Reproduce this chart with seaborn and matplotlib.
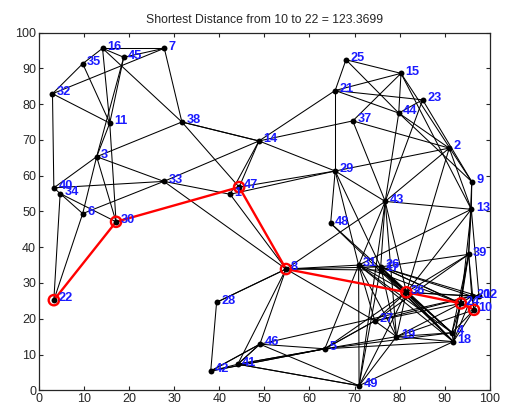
import numpy as np
import pandas as pd
import matplotlib
matplotlib.use("Agg")
import matplotlib.pyplot as plt
import seaborn as sns

# node coordinates (node id -> x, y)
node_ids = list(range(1, 50))
node_x = [42.4, 91.0, 12.8, 91.6, 63.4, 9.7, 27.8, 54.8, 96.0, 96.5,
          15.7, 97.6, 95.9, 48.8, 80.3, 14.1, 75.8, 91.9, 79.3, 96.0,
          65.7, 3.3, 85.1, 93.6, 68.1, 75.8, 74.5, 39.4, 65.7, 17.1,
          70.9, 3.0, 27.7, 4.7, 9.7, 81.5, 69.6, 31.7, 95.3, 3.3,
          44.1, 38.1, 76.8, 79.8, 18.8, 49.0, 44.4, 64.7, 71.0]
node_y = [54.8, 67.7, 65.3, 16.1, 11.6, 49.4, 95.6, 33.9, 58.3, 22.5,
          74.7, 26.3, 50.6, 69.7, 88.6, 95.6, 33.6, 13.6, 15.0, 26.3,
          83.8, 25.2, 81.2, 24.3, 92.4, 34.5, 19.4, 24.6, 61.3, 47.1,
          35.0, 82.9, 58.4, 55.0, 91.3, 27.4, 75.3, 75.0, 38.0, 56.6,
          7.3, 5.4, 52.8, 77.5, 93.1, 12.9, 56.8, 46.7, 1.3]

# graph edges (from, to)
edges_from = [16, 16, 16, 16, 16, 7, 7, 7, 45, 45, 35, 35, 32, 32, 11, 11, 3, 3, 3, 3,
              3, 40, 40, 34, 34, 34, 6, 6, 33, 33, 33, 38, 38, 47, 1, 47, 1, 1, 14, 14,
              14, 14, 21, 21, 21, 21, 21, 25, 25, 15, 15, 15, 23, 23, 23, 44, 44, 37, 37, 2,
              2, 2, 29, 29, 29, 29, 43, 43, 43, 43, 43, 43, 43, 48, 48, 13, 13, 13, 13, 13,
              13, 9, 39, 39, 39, 39, 39, 39, 39, 39, 8, 8, 8, 8, 8, 8, 8, 31, 31, 31,
              31, 31, 31, 31, 31, 26, 26, 26, 26, 26, 26, 26, 26, 26, 17, 17, 17, 36, 36, 36,
              36, 36, 36, 36, 36, 27, 27, 27, 27, 19, 19, 19, 19, 19, 18, 18, 18, 18, 18, 4,
              4, 24, 24, 20, 20, 12, 5, 5, 5, 5, 5, 5, 5, 49, 49, 46, 46, 46, 28, 28,
              42, 42, 42, 41, 41, 41, 5, 2, 15, 44]
edges_to = [7, 45, 35, 11, 38, 45, 32, 38, 3, 11, 32, 11, 11, 40, 3, 30, 38, 33, 40, 6,
            30, 33, 34, 6, 22, 30, 22, 33, 1, 14, 8, 47, 14, 14, 14, 29, 29, 8, 29, 21,
            37, 38, 25, 15, 23, 44, 29, 15, 44, 44, 37, 9, 44, 9, 43, 43, 9, 2, 43, 43,
            29, 13, 43, 31, 26, 48, 13, 8, 26, 19, 49, 36, 31, 18, 4, 9, 39, 31, 36, 12,
            24, 39, 26, 36, 24, 10, 20, 18, 4, 27, 31, 26, 27, 28, 41, 46, 17, 26, 27, 19,
            18, 4, 36, 24, 49, 36, 18, 4, 24, 20, 12, 10, 19, 49, 36, 18, 4, 19, 27, 18,
            4, 20, 12, 49, 5, 19, 20, 24, 5, 18, 4, 24, 10, 49, 4, 10, 24, 20, 49, 10,
            24, 10, 20, 12, 10, 10, 46, 41, 42, 4, 19, 27, 18, 41, 46, 42, 20, 41, 42, 8,
            41, 46, 5, 46, 49, 5, 31, 36, 13, 2]

# shortest path 10 -> 22
path = [10, 24, 36, 8, 47, 30, 22]
title = "Shortest Distance from 10 to 22 = 123.3699"

# ──────────────────────────────────────────────
pos = dict(zip(node_ids, zip(node_x, node_y)))

seg_rows = []
for k, (a, b) in enumerate(zip(edges_from, edges_to)):
    seg_rows.append({"edge": k, "x": pos[a][0], "y": pos[a][1]})
    seg_rows.append({"edge": k, "x": pos[b][0], "y": pos[b][1]})
seg = pd.DataFrame(seg_rows)

nodes = pd.DataFrame({"id": node_ids, "x": node_x, "y": node_y})
route = pd.DataFrame({"x": [pos[n][0] for n in path],
                      "y": [pos[n][1] for n in path],
                      "order": range(len(path))})

sns.set_style("ticks")
plt.rcParams["font.family"] = ["Liberation Sans", "DejaVu Sans"]

fig = plt.figure(figsize=(5.06, 4.07), dpi=100)
ax = fig.add_axes([0.077, 0.041, 0.891, 0.879])

sns.lineplot(data=seg, x="x", y="y", units="edge", estimator=None, sort=False,
             color="black", lw=0.75, ax=ax, legend=False)
sns.lineplot(data=route, x="x", y="y", sort=False, estimator=None,
             color="red", lw=1.7, ax=ax, legend=False, zorder=3)
sns.scatterplot(data=nodes, x="x", y="y", color="black", s=18,
                edgecolor="black", linewidth=0, ax=ax, zorder=4)
sns.scatterplot(data=route, x="x", y="y", marker="o", s=55,
                facecolor="none", edgecolor="red", linewidth=1.7, ax=ax, zorder=5)

for n, x, y in zip(node_ids, node_x, node_y):
    ax.annotate(str(n), (x, y), xytext=(3.2, 1.2), textcoords="offset points",
                ha="left", va="center", color="#1a1aff", fontsize=9.2,
                fontweight="bold", zorder=6)

ax.set_xlim(0, 100)
ax.set_ylim(0, 100)
ax.set_xticks(np.arange(0, 101, 10))
ax.set_yticks(np.arange(0, 101, 10))
ax.set_xlabel("")
ax.set_ylabel("")
ax.tick_params(direction="in", top=True, right=True, length=3, width=0.8,
               labelsize=9, pad=2)
for sp in ax.spines.values():
    sp.set_linewidth(0.9)
ax.set_title(title, fontsize=8.8, pad=7)

fig.savefig("out.png", dpi=100)
